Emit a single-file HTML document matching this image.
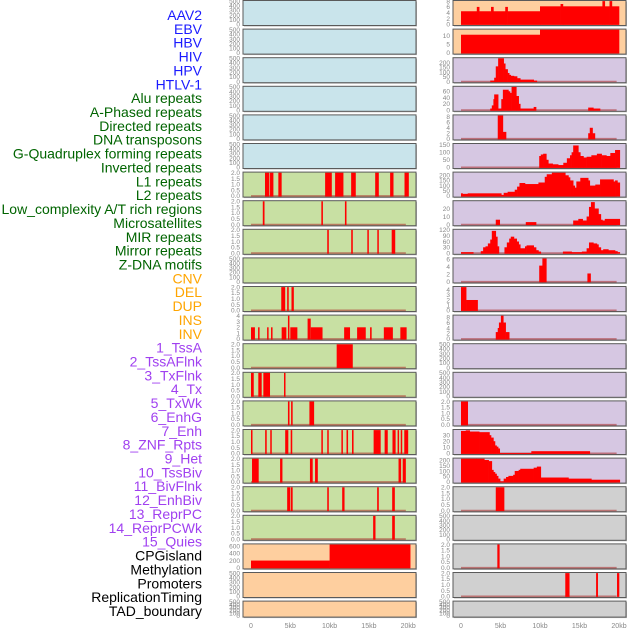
<!DOCTYPE html>
<html><head><meta charset="utf-8"><style>
html,body{margin:0;padding:0;background:#fff}
svg{display:block;font-family:"Liberation Sans",sans-serif}
</style></head><body>
<svg id="chart" width="630" height="630" viewBox="0 0 630 630" xmlns="http://www.w3.org/2000/svg"></svg>
<script>
// ---- labels ----
const labelNames = ["AAV2","EBV","HBV","HIV","HPV","HTLV-1","Alu repeats","A-Phased repeats","Directed repeats","DNA transposons","G-Quadruplex forming repeats","Inverted repeats","L1 repeats","L2 repeats","Low_complexity A/T rich regions","Microsatellites","MIR repeats","Mirror repeats","Z-DNA motifs","CNV","DEL","DUP","INS","INV","1_TssA","2_TssAFlnk","3_TxFlnk","4_Tx","5_TxWk","6_EnhG","7_Enh","8_ZNF_Rpts","9_Het","10_TssBiv","11_BivFlnk","12_EnhBiv","13_ReprPC","14_ReprPCWk","15_Quies","CPGisland","Methylation","Promoters","ReplicationTiming","TAD_boundary"];
const labelGroups = [6,13,5,15,5]; // blue, green, orange, purple, black counts
const groupColors = ["#1a1aff","#006400","#ffa500","#a040f0","#000000"];
const xTickLabels = ["0","5kb","10kb","15kb","20kb"];
const xTickValues = [0,5,10,15,20];

// ---- right column step tracks (edges in kb, values) ----
const aav2Edges=[0,2,2.3,3.8,4.1,5.6,5.9,10,12.6,12.9,17.9,18.2,18.8,19.1,20];
const aav2Values=[4.5,6,4.5,6,4.5,6,4.5,6.2,7,6.2,9,6.2,9,6.2];
const ebvEdges=[0,10,20];
const ebvValues=[10.5,14];
const hivEdges=[3.7,4.2,4.4,4.7,5.4,5.6,5.9,6.1,6.3,6.7,7.1,7.5,9.2,9.6];
const hivValues=[10,40,160,245,190,130,90,70,60,55,35,20,10];
const hpvEdges=[3.7,3.9,4.1,4.2,4.7,5.1,5.3,6.0,6.2,6.4,7.0,7.3,7.5,9.2,9.5,16.1,16.75,17.6];
const hpvValues=[5,15,35,50,5,35,65,60,55,75,45,20,5,10,0,8,5];
const htlvEdges=[4.65,5.3,5.7,16.1,16.3,16.65,16.95];
const htlvValues=[8.5,2.5,0,2,4,2];
const r5Edges=[9.9,10.1,10.4,10.8,11.05,11.6,12.3,12.95,13.4,13.8,14.0,14.2,14.85,15.1,15.5,15.9,16.5,17.2,17.8,18.4,18.9,19.5,20.1];
const r5Values=[75,85,90,50,25,20,15,30,60,80,100,145,100,75,65,70,80,90,80,75,95,115];
const r6Edges=[0,0.2,0.85,5.1,5.4,5.9,6.8,7.1,7.4,8.1,9.8,10.6,10.85,11.5,13.2,13.6,13.8,14.2,14.4,14.6,15.1,16.1,16.3,17.0,17.6,19.3,19.5,19.8,20.1];
const r6Values=[25,20,25,10,30,40,60,90,125,115,130,185,210,225,200,180,150,100,80,140,175,150,100,110,160,140,150,130];
const r7Edges=[4.4,4.9,8.2,9.5,14.2,14.85,15.4,15.9,16.2,16.45,16.9,17.4,17.7,17.9,18.2,20.1];
const r7Values=[6,0,3,0,5,7,5,10,22,28,20,13,6,5,7];
const r8Edges=[0,1.55,2.5,2.8,3.1,3.4,3.7,3.9,4.4,4.6,4.8,5.5,5.8,6.1,6.3,6.7,7.05,7.3,7.5,8.1,8.3,9.2,9.5,9.8,10.1,12.9,14.0,15.3,15.9,16.2,16.75,17.2,17.4,17.7,18.0,18.65,19.5,19.8,20.1];
const r8Values=[5,0,10,30,35,50,70,115,85,35,0,30,55,75,85,75,60,45,25,35,40,30,15,8,0,8,5,8,25,55,50,45,30,15,20,15,10,5];
const r9Edges=[9.9,10.3,10.8,16.0,16.4];
const r9Values=[4.3,6.2,0,2.2];
const r10Edges=[0,0.65,2.1];
const r10Values=[4.5,2];
const r11Edges=[4.4,4.65,4.8,5.05,5.35,5.65,6.1];
const r11Values=[2.5,4,6,8.5,6,2.5];
const r14Edges=[0,0.85];
const r14Values=[2];
const r15Edges=[0,0.6,1.1,2.3,3.6,3.8,4.1,4.3,4.5,4.7,4.9,8.9,16.3];
const r15Values=[37,38,36,35,30,26,20,13,11,8,0.5,3.5];
const r16Edges=[0,1.9,2.95,3.5,3.9,4.1,4.3,4.5,4.7,4.95,5.4,5.7,6.0,6.6,6.8,7.3,7.5,9.2,9.6,10.1,13.6,16.5,20.1];
const r16Values=[225,225,200,190,110,90,75,55,30,5,30,45,55,65,100,110,120,130,140,40,30,20];
const r17Edges=[4.4,5.45];
const r17Values=[2];
const r19Edges=[4.6,4.85];
const r19Values=[2];
const r20Edges=[13.2,13.7,17.1,17.3,19.75,20.0];
const r20Values=[2,0,2,0,2];

// ---- left column bar tracks ----
const l6Starts=[1.78,2.42,3.48,9.43,10.7,12.74,15.8,17.7,19.53];
const l6Ends=[2.34,2.85,3.9,10.28,11.76,13.33,16.26,18.13,20.08];
const l7Starts=[1.5,8.95,11.95];
const l7Ends=[1.72,9.15,12.15];
const l8Starts=[9.7,12.75,14.8,16.07,17.9];
const l8Ends=[9.9,12.95,14.98,16.25,18.35];
const l10Starts=[3.85,4.6,5.15];
const l10Ends=[4.35,4.8,5.45];
const l11Starts=[0,0.9,2.05,2.55,3.9,4.7,5.0,7.2,7.6,11.85,13.5,15.15,16.9,19.0];
const l11Ends=[0.5,1.05,2.2,2.7,4.5,4.85,5.9,7.6,9.1,12.6,14.6,15.35,18.05,19.8];
const l11Values=[2,2,2,2,2,4,2,3.5,2,2,2,2,2,2];
const l12Starts=[10.9];
const l12Ends=[12.95];
const l13Starts=[0,0.93,1.57,4.2];
const l13Ends=[0.35,1.36,2.42,4.35];
const l14Starts=[4.7,5.1,7.43];
const l14Ends=[4.9,5.3,8.03];
const l15Starts=[0,1.8,2.45,4.35,5.05,8.95,9.7,11.5,12.15,12.85,15.6,17.0,18.0,18.65,19.05,19.5];
const l15Ends=[0.15,2.0,2.6,4.75,5.25,9.1,9.85,11.65,12.35,13.05,16.5,17.4,18.4,18.8,19.2,20.0];
const l16Starts=[0.13,3.7,7.5,8.15,18.77,19.3];
const l16Ends=[0.98,4.0,7.85,8.5,19.1,19.7];
const l17Starts=[4.6,5.05,9.7,11.6,16.05,17.96];
const l17Ends=[4.97,5.3,9.9,11.9,16.26,18.3];
const l18Starts=[15.54,17.96];
const l18Ends=[15.84,18.3];
const cpgEdges=[0,10,20.25];
const cpgValues=[200,700];

const BLANK=[0,100,200,300,400,500];
const BAR=["0.0","0.5","1.0","1.5","2.0"];
const C={blue:"#c9e4eb",green:"#c8e0a3",orange:"#fecf9f",purple:"#d6c7e2",gray:"#d0d0d0"};

// row definitions: [leftColor,leftType,leftData..., rightColor,...]
const rows=[
 {L:{c:C.blue,t:BLANK,m:500},R:{c:C.orange,t:[0,2,4,6,8],m:8,e:aav2Edges,v:aav2Values,nb:1}},
 {L:{c:C.blue,t:BLANK,m:500},R:{c:C.orange,t:[0,5,10],m:13.4,e:ebvEdges,v:ebvValues,nb:1}},
 {L:{c:C.blue,t:BLANK,m:500},R:{c:C.purple,t:[0,50,100,150,200],m:245,e:hivEdges,v:hivValues}},
 {L:{c:C.blue,t:BLANK,m:500},R:{c:C.purple,t:[0,20,40,60],m:74,e:hpvEdges,v:hpvValues}},
 {L:{c:C.blue,t:BLANK,m:500},R:{c:C.purple,t:[0,2,4,6,8],m:8.5,e:htlvEdges,v:htlvValues}},
 {L:{c:C.blue,t:BLANK,m:500},R:{c:C.purple,t:[0,50,100,150],m:154,e:r5Edges,v:r5Values}},
 {L:{c:C.green,t:BAR,m:2,s:l6Starts,en:l6Ends},R:{c:C.purple,t:[0,50,100,150,200],m:225,e:r6Edges,v:r6Values}},
 {L:{c:C.green,t:BAR,m:2,s:l7Starts,en:l7Ends},R:{c:C.purple,t:[0,10,20],m:29,e:r7Edges,v:r7Values}},
 {L:{c:C.green,t:BAR,m:2,s:l8Starts,en:l8Ends},R:{c:C.purple,t:[0,30,60,90,120],m:120,e:r8Edges,v:r8Values}},
 {L:{c:C.green,t:BLANK,m:500},R:{c:C.purple,t:[0,2,4,6],m:6.2,e:r9Edges,v:r9Values}},
 {L:{c:C.green,t:BAR,m:2,s:l10Starts,en:l10Ends},R:{c:C.purple,t:[0,1,2,3,4],m:4.5,e:r10Edges,v:r10Values}},
 {L:{c:C.green,t:[0,1,2,3,4],m:4,s:l11Starts,en:l11Ends,v:l11Values},R:{c:C.purple,t:[0,2,4,6,8],m:8.5,e:r11Edges,v:r11Values}},
 {L:{c:C.green,t:BAR,m:2,s:l12Starts,en:l12Ends},R:{c:C.purple,t:BLANK,m:500}},
 {L:{c:C.green,t:BAR,m:2,s:l13Starts,en:l13Ends},R:{c:C.purple,t:BLANK,m:500}},
 {L:{c:C.green,t:BAR,m:2,s:l14Starts,en:l14Ends},R:{c:C.purple,t:BAR,m:2,e:r14Edges,v:r14Values}},
 {L:{c:C.green,t:BAR,m:2,s:l15Starts,en:l15Ends},R:{c:C.purple,t:[0,10,20,30],m:38.4,e:r15Edges,v:r15Values}},
 {L:{c:C.green,t:BAR,m:2,s:l16Starts,en:l16Ends},R:{c:C.purple,t:[0,50,100,150,200],m:212,e:r16Edges,v:r16Values}},
 {L:{c:C.green,t:BAR,m:2,s:l17Starts,en:l17Ends},R:{c:C.gray,t:BAR,m:2,e:r17Edges,v:r17Values}},
 {L:{c:C.green,t:BAR,m:2,s:l18Starts,en:l18Ends},R:{c:C.gray,t:BLANK,m:500}},
 {L:{c:C.orange,t:[0,200,400,600],m:650,e:cpgEdges,v:cpgValues,nb:1},R:{c:C.gray,t:BAR,m:2,e:r19Edges,v:r19Values}},
 {L:{c:C.orange,t:BLANK,m:500},R:{c:C.gray,t:BAR,m:2,e:r20Edges,v:r20Values}},
 {L:{c:C.orange,t:BLANK,m:500},R:{c:C.gray,t:BLANK,m:500}}
];

const NS="http://www.w3.org/2000/svg";
const svg=document.getElementById('chart');
function mk(tag,attrs,parent){const e=document.createElementNS(NS,tag);for(const k in attrs)e.setAttribute(k,attrs[k]);(parent||svg).appendChild(e);return e;}

// labels
let li=0;
labelGroups.forEach((n,g)=>{for(let k=0;k<n;k++){const t=mk('text',{x:202,y:(15+li*13.86+5).toFixed(1),'text-anchor':'end','font-size':14,fill:groupColors[g]});


t.textContent=labelNames[li];li++;}});

const cols={L:{x:243,x0:251,k:7.86},R:{x:453,x0:461,k:7.9}};
rows.forEach((row,i)=>{
  const top=0.5+i*28.6, h=(i===21?16:25);
  ['L','R'].forEach(side=>{
    const p=row[side], col=cols[side];
    const g=mk('g',{});
    
    
    mk('rect',{x:col.x+1,y:top+1,width:173,height:h,fill:'#b8b8b8'},g);
    mk('rect',{x:col.x,y:top,width:173,height:h,fill:p.c,stroke:'#5a5a5a','stroke-width':1},g);
    const xs=kb=>col.x0+kb*col.k;
    const base=top+h-1.2, span=h-1.8;
    const ys=v=>base-Math.min(v,p.m)/p.m*span;
    // ticks
    p.t.forEach(tv=>{const t=mk('text',{x:col.x-3,y:(ys(parseFloat(tv))+2.3).toFixed(1),'text-anchor':'end','font-size':6.5,fill:'#888'},g);
      
      
      t.textContent=tv;});
    const hasData=p.e||p.s;
    if(hasData&&!p.nb){const b=mk('line',{x1:xs(0),x2:xs(19.7),y1:base,y2:base,stroke:'rgba(170,40,40,0.55)','stroke-width':1.6},g);
      
      }
    if(p.e){for(let j=0;j<p.v.length;j++){if(p.v[j]<=0)continue;
      const r=mk('rect',{x:xs(p.e[j]).toFixed(2),y:ys(p.v[j]).toFixed(2),width:(xs(p.e[j+1])-xs(p.e[j])+0.3).toFixed(2),height:(base-ys(p.v[j])+0.6).toFixed(2),fill:'#ff0000'},g);
      
      }}
    if(p.s){for(let j=0;j<p.s.length;j++){const v=p.v?p.v[j]:p.m;
      const r=mk('rect',{x:xs(p.s[j]).toFixed(2),y:ys(v).toFixed(2),width:Math.max(1.5,xs(p.en[j])-xs(p.s[j])).toFixed(2),height:(base-ys(v)+0.6).toFixed(2),fill:'#ff0000'},g);
      
      }}
  });
});
// x axes
['L','R'].forEach(side=>{const col=cols[side];xTickValues.forEach((v,j)=>{const t=mk('text',{x:col.x0+v*col.k,y:628,'text-anchor':'middle','font-size':7,fill:'#888'});
  
  
  t.textContent=xTickLabels[j];});});
</script>
</body></html>
